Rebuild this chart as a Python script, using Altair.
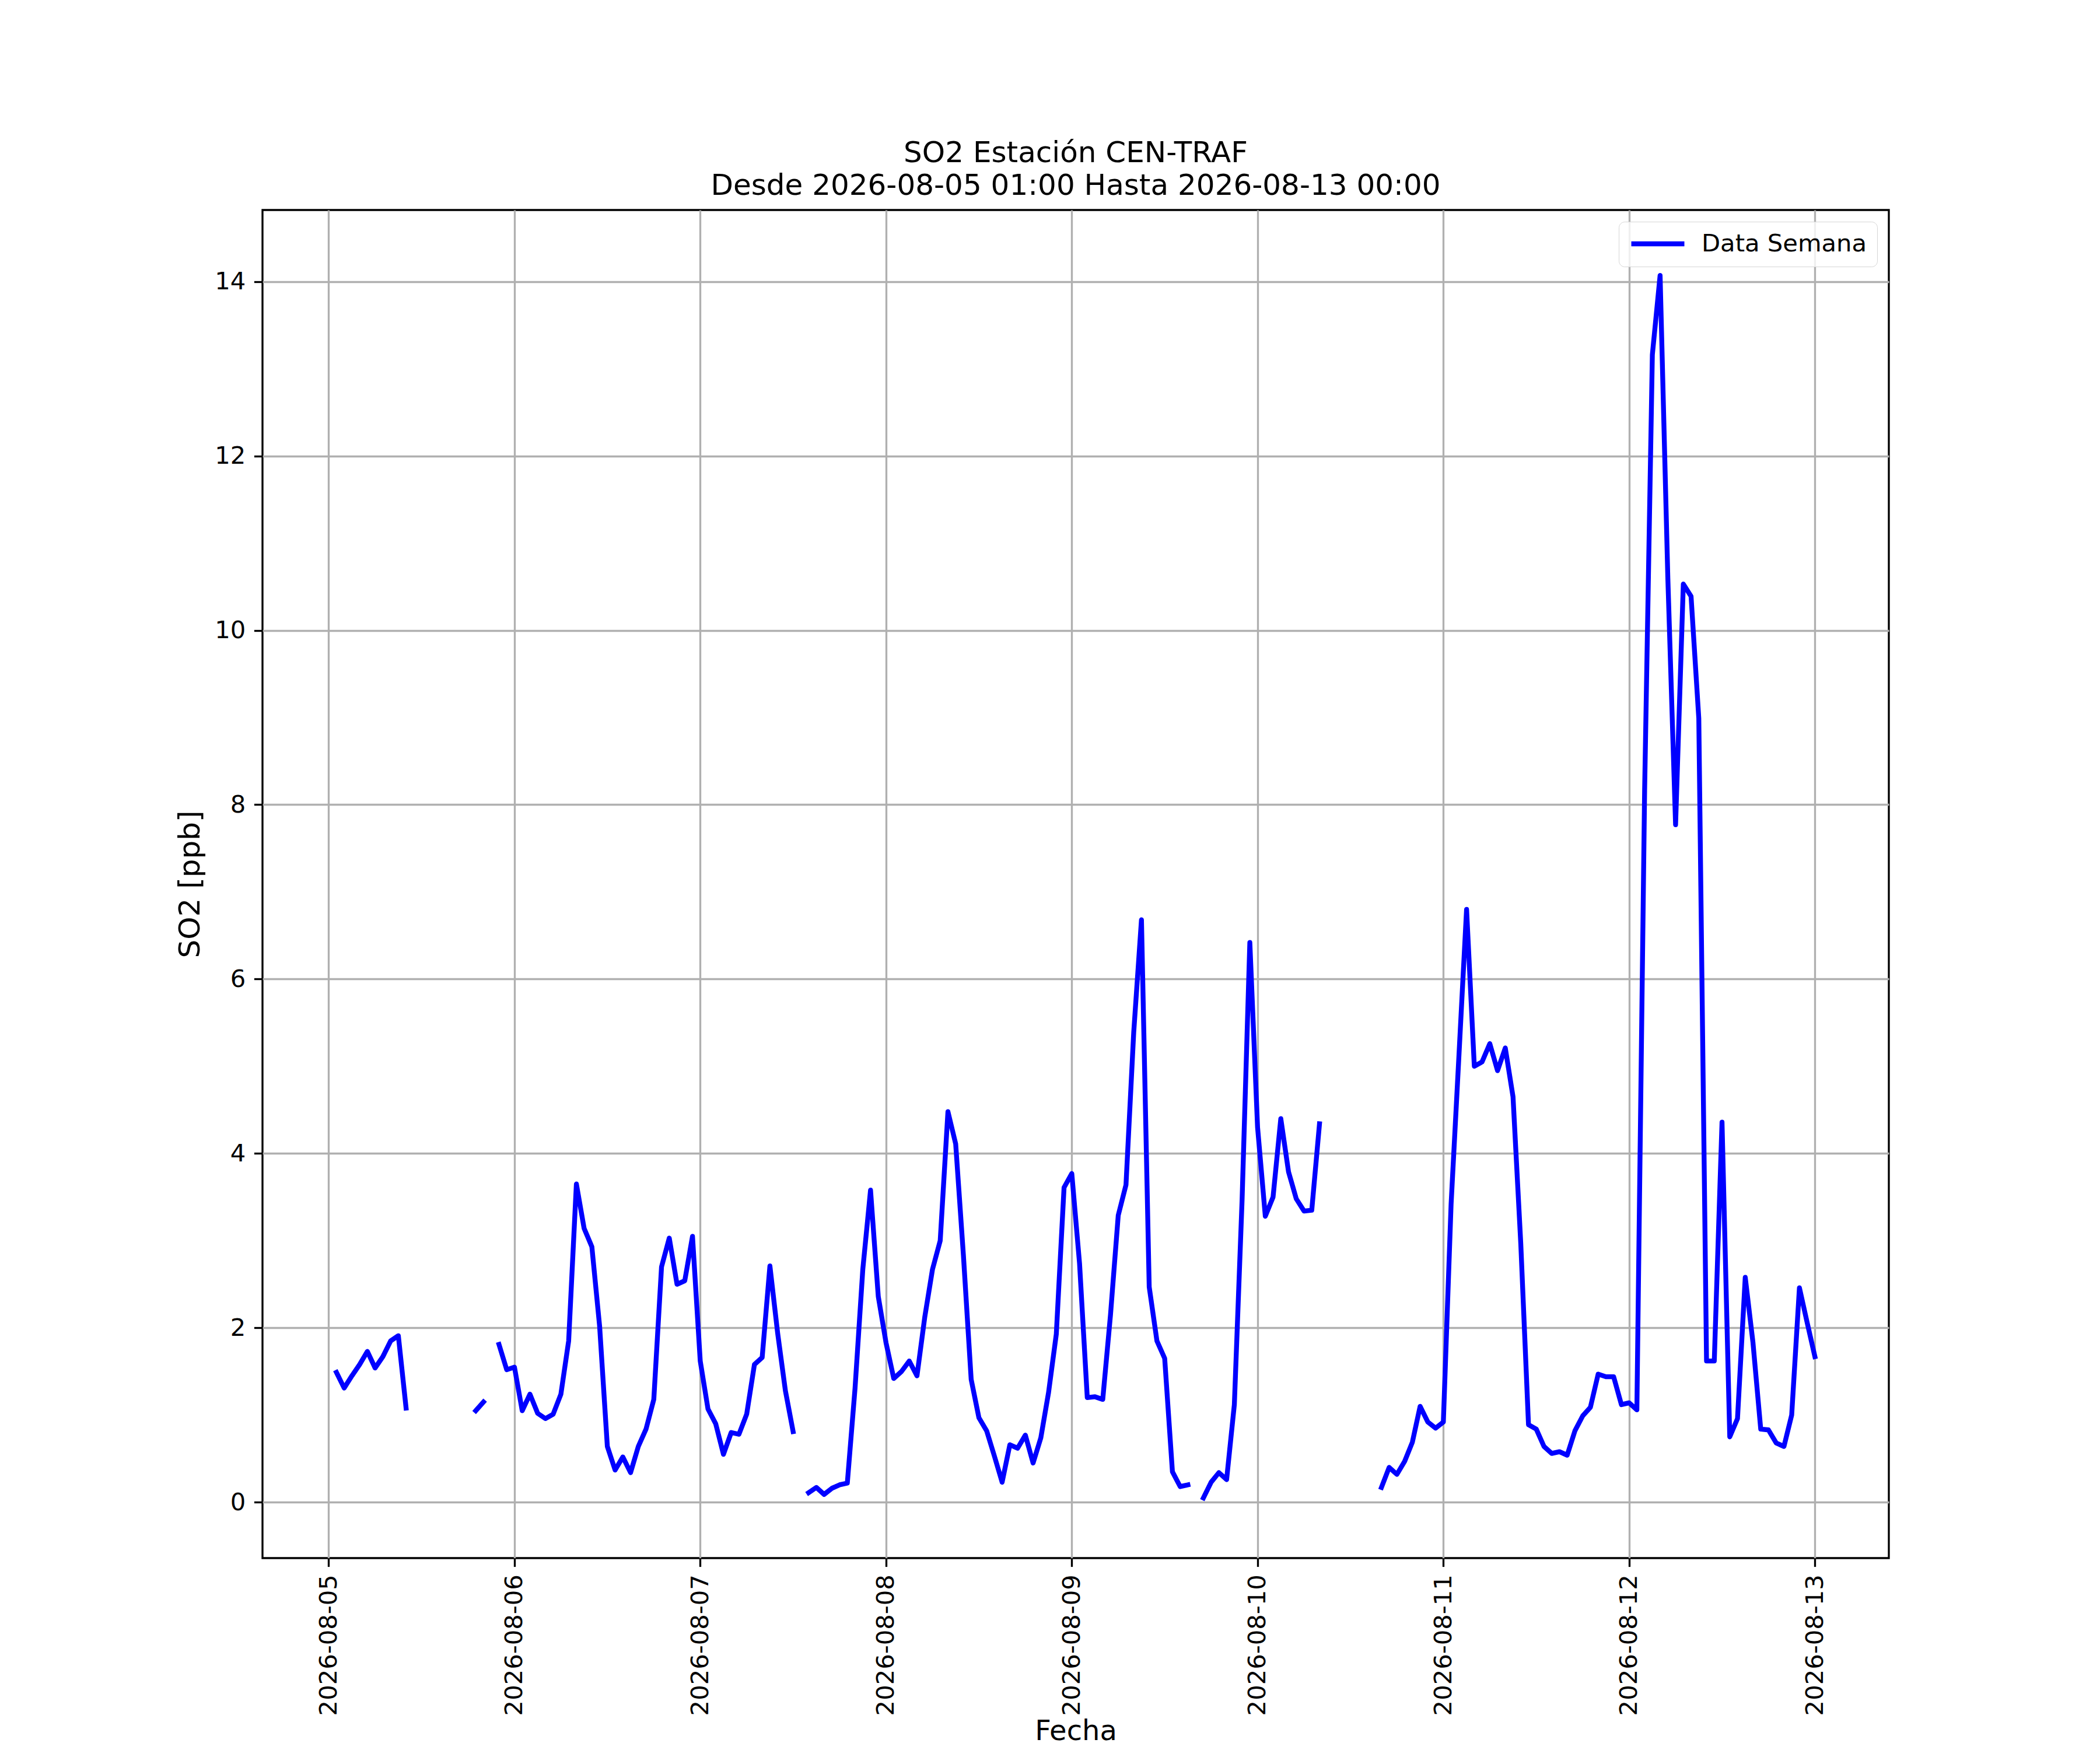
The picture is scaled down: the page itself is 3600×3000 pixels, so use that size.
import altair as alt
import pandas as pd

NaN = float("nan")

# Hourly SO2 values (ppb)
dia_05 = [1.49, 1.31, 1.45, 1.58, 1.73, 1.54, 1.67, 1.85, 1.91, 1.08,
          NaN, NaN, NaN, NaN, NaN, NaN, NaN, NaN, 1.05, 1.15, NaN, 1.81, 1.52]  # 01..23
dia_06 = [1.55, 1.05, 1.24, 1.02, 0.96, 1.01, 1.24, 1.85, 3.65, 3.14, 2.93, 2.02,
          0.64, 0.37, 0.52, 0.34, 0.64, 0.84, 1.18, 2.70, 3.03, 2.50, 2.54, 3.05]
dia_07 = [1.62, 1.07, 0.90, 0.55, 0.80, 0.78, 1.01, 1.58, 1.66, 2.71, 1.94, 1.28,
          0.81, NaN, 0.11, 0.17, 0.09, 0.16, 0.20, 0.22, 1.31, 2.67, 3.58, 2.36]
dia_08 = [1.83, 1.42, 1.50, 1.62, 1.45, 2.12, 2.67, 3.00, 4.48, 4.11, 2.83, 1.41,
          0.97, 0.82, 0.53, 0.23, 0.66, 0.62, 0.77, 0.45, 0.74, 1.26, 1.93, 3.61]
dia_09 = [3.77, 2.74, 1.20, 1.21, 1.18, 2.15, 3.29, 3.64, 5.39, 6.68, 2.47, 1.85,
          1.65, 0.35, 0.18, 0.20, NaN, 0.05, 0.23, 0.34, 0.26, 1.12, 3.47, 6.42]
dia_10 = [4.30, 3.28, 3.50, 4.40, 3.79, 3.48, 3.34, 3.35, 4.34, NaN, NaN, NaN,
          NaN, NaN, NaN, NaN, 0.17, 0.40, 0.32, 0.47, 0.69, 1.10, 0.92, 0.85]
dia_11 = [0.92, 3.42, 5.10, 6.80, 5.00, 5.05, 5.26, 4.95, 5.21, 4.65, 2.97, 0.89,
          0.84, 0.64, 0.56, 0.58, 0.54, 0.82, 0.99, 1.09, 1.47, 1.44, 1.44, 1.12]
dia_12 = [1.14, 1.06, 8.16, 13.16, 14.07, 10.60, 7.77, 10.53, 10.39, 8.99, 1.62, 1.62,
          4.36, 0.75, 0.96, 2.58, 1.83, 0.84, 0.83, 0.68, 0.64, 1.00, 2.46, 2.06]
dia_13 = [1.67]  # 00:00

valores = dia_05 + dia_06 + dia_07 + dia_08 + dia_09 + dia_10 + dia_11 + dia_12 + dia_13
horas = pd.date_range("2026-08-05 01:00", periods=len(valores), freq="h")

y_ticks = [0, 2, 4, 6, 8, 10, 12, 14]
dias = list(range(5, 14))

df = pd.DataFrame({"fecha": horas.strftime("%Y-%m-%dT%H:%M:%S"), "so2": valores})
df["tramo"] = df["so2"].isna().cumsum()
df = df.dropna().reset_index(drop=True)
df["serie"] = "Data Semana"

FONT = "DejaVu Sans"
LW = 3.33

x_axis = alt.Axis(
    values=[alt.DateTime(year=2026, month=8, date=d) for d in dias],
    format="%Y-%m-%d",
    labelAngle=270, labelAlign="right", labelBaseline="middle", labelLimit=0,
    labelFont=FONT, labelFontSize=41.7, labelColor="black", labelPadding=13,
    tickColor="black", tickSize=14.6, tickWidth=LW,
    grid=True, gridColor="#b0b0b0", gridWidth=LW, gridOpacity=1,
    domain=False,
    title="Fecha", titleFont=FONT, titleFontSize=48, titleFontWeight="normal",
    titleColor="black", titleBaseline="alphabetic", titleY=311,
)
y_axis = alt.Axis(
    values=y_ticks,
    labelFont=FONT, labelFontSize=41.7, labelColor="black", labelPadding=14.6,
    tickColor="black", tickSize=14.6, tickWidth=LW,
    grid=True, gridColor="#b0b0b0", gridWidth=LW, gridOpacity=1,
    domain=False,
    title="SO2 [ppb]", titleFont=FONT, titleFontSize=50, titleFontWeight="normal",
    titleColor="black", titlePadding=16.7,
)

chart = alt.Chart(df).mark_line(
    strokeWidth=8.33, strokeJoin="round", strokeCap="square"
).encode(
    x=alt.X("fecha:T",
            scale=alt.Scale(domain=[alt.DateTime(year=2026, month=8, date=4, hours=15, minutes=27),
                                    alt.DateTime(year=2026, month=8, date=13, hours=9, minutes=33)],
                            nice=False),
            axis=x_axis),
    y=alt.Y("so2:Q", scale=alt.Scale(domain=[-0.64, 14.82], nice=False, zero=False), axis=y_axis),
    color=alt.Color("serie:N",
                    scale=alt.Scale(domain=["Data Semana"], range=["#0000ff"]),
                    legend=alt.Legend(
                        title=None, orient="top-right", offset=20, padding=17,
                        cornerRadius=10, strokeColor="#d5d5d5", fillColor="rgba(255,255,255,0.8)",
                        labelFont=FONT, labelFontSize=41.7, labelColor="black", labelOffset=25,
                        labelLimit=0,
                        symbolType="stroke", symbolSize=8281, symbolStrokeWidth=8.33,
                        clipHeight=42,
                    )),
    detail="tramo:N",
).properties(
    width=2788,
    height=2311,
    autosize=alt.AutoSizeParams(type="none"),
    padding={"left": 442, "top": 352, "right": 350, "bottom": 320},
    title=alt.TitleParams(
        text=["SO2 Estación CEN-TRAF", "Desde 2026-08-05 01:00 Hasta 2026-08-13 00:00"],
        font=FONT, fontSize=50, fontWeight="normal", color="black",
        anchor="middle", frame="group", baseline="bottom", offset=-34, lineHeight=56,
    ),
).configure(
    background="white",
).configure_view(
    stroke="black", strokeWidth=LW,
)

chart.save("out.html", embed_options={"renderer": "svg", "actions": False})
